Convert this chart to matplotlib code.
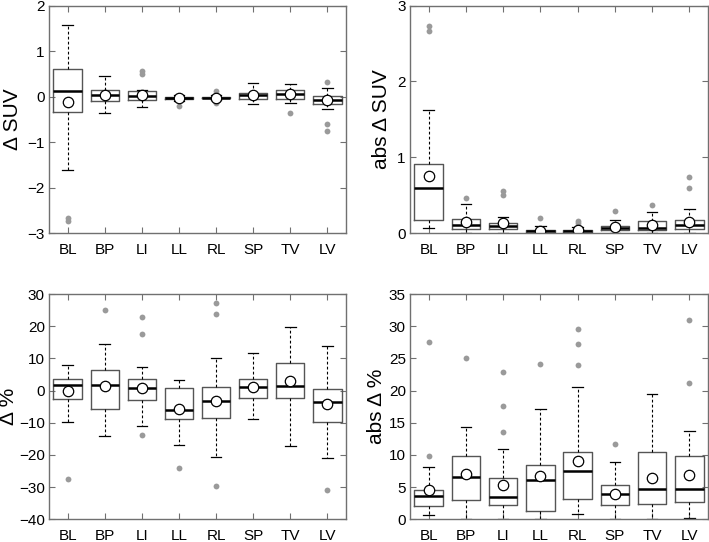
import matplotlib
matplotlib.use("Agg")
import matplotlib.pyplot as plt

plt.rcParams['font.family'] = ['Liberation Sans', 'DejaVu Sans']

categories = ["BL", "BP", "LI", "LL", "RL", "SP", "TV", "LV"]

# ---- Panel A: delta SUV ----
a_whislo = [-1.62, -0.37, -0.22, -0.10, -0.08, -0.17, -0.14, -0.28]
a_q1     = [-0.34, -0.10, -0.07, -0.05, -0.04, -0.05, -0.05, -0.17]
a_med    = [0.13, 0.04, 0.01, -0.03, -0.02, 0.04, 0.05, -0.07]
a_q3     = [0.60, 0.15, 0.12, 0.00, 0.00, 0.09, 0.15, 0.01]
a_whishi = [1.57, 0.45, 0.15, 0.03, 0.03, 0.29, 0.27, 0.18]
a_mean   = [-0.11, 0.04, 0.04, -0.04, -0.02, 0.04, 0.05, -0.08]
a_fliers = [[-2.67, -2.73], [], [0.56, 0.50], [-0.20], [0.13, -0.13], [], [-0.37], [0.32, -0.60, -0.75]]

# ---- Panel B: abs delta SUV ----
b_whislo = [0.066, 0.0, 0.005, 0.0, 0.0, 0.0, 0.0, 0.0]
b_q1     = [0.18, 0.053, 0.057, 0.01, 0.01, 0.044, 0.044, 0.053]
b_med    = [0.60, 0.105, 0.097, 0.03, 0.025, 0.066, 0.075, 0.105]
b_q3     = [0.91, 0.19, 0.136, 0.04, 0.04, 0.10, 0.16, 0.18]
b_whishi = [1.63, 0.39, 0.215, 0.09, 0.08, 0.17, 0.28, 0.32]
b_mean   = [0.755, 0.15, 0.136, 0.035, 0.04, 0.08, 0.11, 0.155]
b_fliers = [[2.73, 2.66], [0.46], [0.56, 0.50], [0.206], [0.16, 0.13], [0.29], [0.37], [0.74, 0.59]]

# ---- Panel C: delta % ----
c_whislo = [-9.8, -14.1, -10.9, -17.0, -20.5, -8.9, -17.1, -21.0]
c_q1     = [-2.6, -5.6, -3.0, -8.7, -8.5, -2.3, -2.4, -9.9]
c_med    = [1.75, 1.75, 0.8, -6.0, -3.3, 1.2, 1.4, -3.7]
c_q3     = [3.6, 6.5, 3.5, 0.8, 1.2, 3.6, 8.7, 0.6]
c_whishi = [8.0, 14.4, 7.4, 3.3, 10.2, 11.6, 19.6, 13.7]
c_mean   = [-0.1, 1.3, 0.9, -5.8, -3.1, 1.1, 3.0, -4.3]
c_fliers = [[-27.5], [25.0], [22.9, 17.6, -13.7], [-24.0], [27.1, 23.7, -29.5], [], [], [-31.0]]

# ---- Panel D: abs delta % ----
d_whislo = [0.7, 0.05, 0.0, 0.0, 0.8, 0.0, 0.0, 0.15]
d_q1     = [2.0, 2.95, 2.2, 1.35, 3.2, 2.2, 2.3, 2.7]
d_med    = [3.6, 6.5, 3.4, 6.1, 7.5, 3.9, 4.7, 4.7]
d_q3     = [4.5, 9.8, 6.4, 8.5, 10.4, 5.3, 10.4, 9.9]
d_whishi = [8.1, 14.4, 10.9, 17.1, 20.6, 8.9, 19.5, 13.7]
d_mean   = [4.6, 7.1, 5.4, 6.7, 9.0, 3.9, 6.4, 6.9]
d_fliers = [[27.6, 9.8], [25.1], [22.9, 17.6, 13.6], [24.1], [29.6, 27.3, 23.9], [11.7], [], [31.0, 21.1]]

panels = [
    (a_whislo, a_q1, a_med, a_q3, a_whishi, a_mean, a_fliers, "Δ SUV", (-3, 2), list(range(-3, 3))),
    (b_whislo, b_q1, b_med, b_q3, b_whishi, b_mean, b_fliers, "abs Δ SUV", (0, 3), list(range(0, 4))),
    (c_whislo, c_q1, c_med, c_q3, c_whishi, c_mean, c_fliers, "Δ %", (-40, 30), list(range(-40, 31, 10))),
    (d_whislo, d_q1, d_med, d_q3, d_whishi, d_mean, d_fliers, "abs Δ %", (0, 35), list(range(0, 36, 5))),
]

W, H = 709, 542
fig = plt.figure(figsize=(W / 100, H / 100), dpi=100)
rects = [
    (49 / W, 1 - 233.3 / H, 297 / W, 227.8 / H),
    (410 / W, 1 - 233.3 / H, 298 / W, 227.8 / H),
    (49 / W, 1 - 519.3 / H, 297 / W, 225.3 / H),
    (410 / W, 1 - 519.3 / H, 298 / W, 225.3 / H),
]
label_x = [-0.123, -0.096, -0.135, -0.112]

spine_col = "#707070"
for rect, lx, (wl, q1, med, q3, wh, mn, fl, ylab, ylim, yticks) in zip(rects, label_x, panels):
    ax = fig.add_axes(rect)
    stats = []
    for i in range(len(categories)):
        stats.append(dict(label=categories[i], whislo=wl[i], q1=q1[i], med=med[i],
                          q3=q3[i], whishi=wh[i], mean=mn[i], fliers=fl[i]))
    pos = list(range(1, len(categories) + 1))
    ax.bxp(stats, positions=pos, widths=0.76, showmeans=True, showfliers=True,
           boxprops=dict(color="#555555", linewidth=1.0),
           medianprops=dict(color="black", linewidth=1.8),
           whiskerprops=dict(color="black", linewidth=0.8, linestyle=(0, (2.5, 2))),
           capprops=dict(color="black", linewidth=0.9),
           capwidths=0.28,
           flierprops=dict(marker="o", markerfacecolor="#9a9a9a", markeredgecolor="none",
                           markersize=4.2),
           meanprops=dict(marker="o", markerfacecolor="white", markeredgecolor="black",
                          markersize=7.5, markeredgewidth=0.9))
    ax.set_xlim(0.5, len(categories) + 0.5)
    ax.set_ylim(*ylim)
    ax.set_yticks(yticks)
    ax.set_xticks(pos)
    ax.set_xticklabels(categories)
    ax.set_ylabel(ylab, fontsize=15)
    ax.yaxis.label.set_va("center")
    ax.yaxis.set_label_coords(lx, 0.5)
    ax.tick_params(direction="in", top=True, right=True, length=4, width=0.8,
                   color=spine_col, labelsize=11)
    ax.tick_params(axis="y", pad=3)
    ax.tick_params(axis="x", pad=7)
    for sp in ax.spines.values():
        sp.set_color(spine_col)
        sp.set_linewidth(1.0)

fig.savefig("out.png", dpi=100)
